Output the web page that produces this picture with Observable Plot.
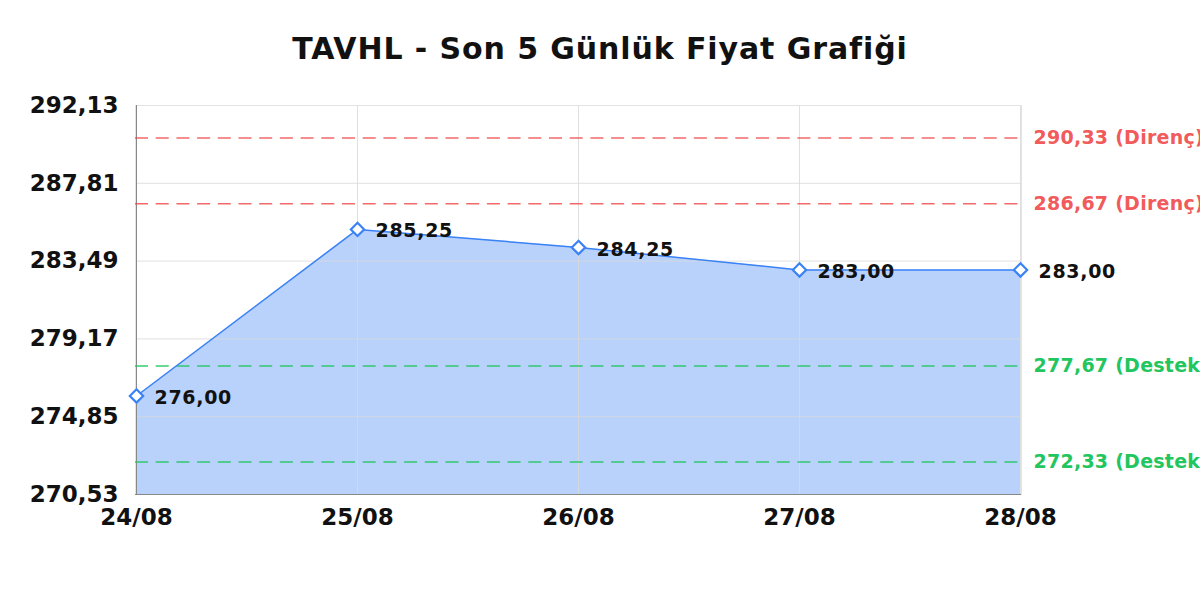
<!DOCTYPE html>
<html><head><meta charset="utf-8">
<script src="https://cdn.jsdelivr.net/npm/d3@7"></script>
<script src="https://cdn.jsdelivr.net/npm/@observablehq/plot@0.6"></script>
<style>
body{margin:0;background:#fff;font-family:"DejaVu Sans",sans-serif;overflow:hidden;}
#title{height:80px;line-height:98px;text-align:center;font-weight:bold;font-size:30px;color:#111;letter-spacing:0.9px;}
</style></head><body>
<div id="title">TAVHL - Son 5 Günlük Fiyat Grafiği</div>
<div id="chart"></div>
<script>
const dates = ["24/08","25/08","26/08","27/08","28/08"];
const prices = [276.00, 285.25, 284.25, 283.00, 283.00];
const yTicks = [270.53, 274.85, 279.17, 283.49, 287.81, 292.13];
const resistance = [290.33, 286.67];
const support = [277.67, 272.33];

const fmt = v => v.toFixed(2).replace(".", ",");
const data = dates.map((d, i) => ({date: d, price: prices[i]}));
const resLevels = resistance.map(v => ({v, label: fmt(v) + " (Direnç)"}));
const supLevels = support.map(v => ({v, label: fmt(v) + " (Destek)"}));
const yMin = yTicks[0], yMax = yTicks[yTicks.length - 1];

const chart = Plot.plot({
  width: 1200,
  height: 520,
  marginTop: 25,
  marginBottom: 106,
  marginLeft: 135,
  marginRight: 179,
  style: {fontFamily: "DejaVu Sans, sans-serif"},
  x: {type: "point", domain: dates, padding: 0, label: null},
  y: {domain: [yMin, yMax], label: null},
  marks: [
    Plot.areaY(data, {x: "date", y1: yMin, y2: "price", fill: "#3b82f6", fillOpacity: 0.36}),
    Plot.gridX(dates, {stroke: "#d8d8d8", strokeOpacity: 0.8}),
    Plot.gridY(yTicks, {stroke: "#d8d8d8", strokeOpacity: 0.8}),
    Plot.frame({stroke: "#e3e3e3"}),
    Plot.ruleX([dates[0]], {stroke: "#888"}),
    Plot.ruleY([yMin], {stroke: "#888"}),
    Plot.ruleY(resLevels, {y: "v", stroke: "#ef4444", strokeOpacity: 0.8, strokeWidth: 1.5, strokeDasharray: "13,7.7"}),
    Plot.ruleY(supLevels, {y: "v", stroke: "#22c55e", strokeOpacity: 0.9, strokeWidth: 1.5, strokeDasharray: "13,7.7"}),
    Plot.text(resLevels, {y: "v", text: "label", frameAnchor: "right", textAnchor: "start", dx: 12, fill: "#ef4444", fillOpacity: 0.9, fontSize: 19, fontWeight: "bold"}),
    Plot.text(supLevels, {y: "v", text: "label", frameAnchor: "right", textAnchor: "start", dx: 12, fill: "#22c55e", fontSize: 19, fontWeight: "bold"}),
    Plot.line(data, {x: "date", y: "price", stroke: "#3b82f6", strokeWidth: 1.5}),
    Plot.dot(data, {x: "date", y: "price", symbol: "diamond2", r: 6, stroke: "#3b82f6", strokeWidth: 2.2, fill: "white"}),
    Plot.text(data, {x: "date", y: "price", text: d => fmt(d.price), textAnchor: "start", dx: 18, dy: 2, fill: "#111", fontSize: 19, fontWeight: "bold"}),
    Plot.axisY(yTicks, {tickSize: 0, tickPadding: 17, tickFormat: fmt, fontSize: 23, fontWeight: "bold", fill: "#111", label: null}),
    Plot.axisX(dates, {tickSize: 0, tickPadding: 14, fontSize: 23, fontWeight: "bold", fill: "#111", label: null})
  ]
});
const textGroups = chart.querySelectorAll('g[aria-label="text"]');
textGroups.forEach((g, i) => {
  g.style.letterSpacing = i < 2 ? "0.25px" : "0.7px";
});
document.getElementById("chart").appendChild(chart);
</script>
</body></html>
